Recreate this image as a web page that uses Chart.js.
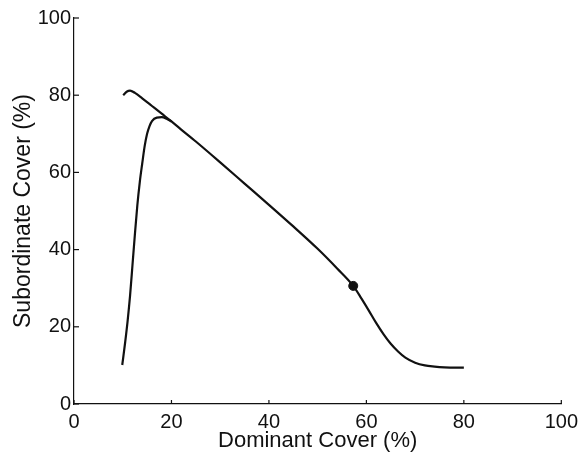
<!DOCTYPE html>
<html>
<head>
<meta charset="utf-8">
<script src="https://cdn.jsdelivr.net/npm/chart.js@4/dist/chart.umd.min.js"></script>
<style>
  html, body { margin: 0; padding: 0; background: #fff; }
</style>
</head>
<body>
<canvas id="coverChart" width="584" height="454"></canvas>
<script>
// upper curve: starts near 80%, falls along a line, then bends down to ~10%
const upperX = [10.1, 10.8, 11.5, 12.5, 14, 16, 18, 20, 22, 25, 30, 35, 40, 45, 50, 54, 57.3,
                59, 60.5, 62, 63.5, 65, 66.5, 68, 70, 72, 74, 76, 78, 80];
const upperY = [80, 80.9, 81.2, 80.6, 79.2, 77.2, 75.2, 73.2, 71.1, 68, 62.6, 57.1, 51.6, 46, 40.2, 35.1, 30.6,
                27.3, 24.2, 21, 18.1, 15.6, 13.6, 12, 10.7, 10, 9.7, 9.5, 9.4, 9.4];

// lower curve: rises steeply from ~10% and joins the upper one
const lowerX = [9.9, 10.5, 11, 11.5, 12, 12.5, 13, 13.5, 14, 14.5, 15, 15.5, 16, 17, 18, 19, 20];
const lowerY = [10.1, 16, 21.5, 28, 36, 44, 51.5, 57.5, 62.3, 66.8, 70, 72, 73.3, 74.2, 74.3, 73.9, 73.2];

// marked point on the upper curve
const markerX = [57.3];
const markerY = [30.6];

const axisTicks = [0, 20, 40, 60, 80, 100];

const toPoints = (xs, ys) => xs.map((x, i) => ({ x: x, y: ys[i] }));

const FONT = '"Liberation Sans", Arial, Helvetica, sans-serif';
const INK = '#111';

// ticks drawn inward, like the original figure
const inwardTicks = {
    id: 'inwardTicks',
    afterDraw(chart) {
        const { ctx, chartArea, scales } = chart;
        ctx.save();
        ctx.strokeStyle = INK;
        ctx.lineWidth = 1.2;
        axisTicks.forEach(v => {
            const px = scales.x.getPixelForValue(v);
            ctx.beginPath();
            ctx.moveTo(px, chartArea.bottom);
            ctx.lineTo(px, chartArea.bottom - 4);
            ctx.stroke();
            const py = scales.y.getPixelForValue(v);
            ctx.beginPath();
            ctx.moveTo(chartArea.left, py);
            ctx.lineTo(chartArea.left + 5, py);
            ctx.stroke();
        });
        ctx.restore();
    }
};

new Chart(document.getElementById('coverChart').getContext('2d'), {
    type: 'scatter',
    data: {
        datasets: [
            {
                data: toPoints(upperX, upperY),
                showLine: true,
                borderColor: INK,
                borderWidth: 2.2,
                pointRadius: 0,
                cubicInterpolationMode: 'monotone'
            },
            {
                data: toPoints(lowerX, lowerY),
                showLine: true,
                borderColor: INK,
                borderWidth: 2.2,
                pointRadius: 0,
                cubicInterpolationMode: 'monotone'
            },
            {
                data: toPoints(markerX, markerY),
                pointRadius: 4.5,
                pointBackgroundColor: INK,
                pointBorderColor: INK
            }
        ]
    },
    options: {
        responsive: false,
        animation: false,
        layout: { padding: { left: 0, top: 18, right: 18, bottom: 0 } },
        plugins: {
            legend: { display: false },
            tooltip: { enabled: false }
        },
        scales: {
            x: {
                type: 'linear',
                min: 0,
                max: 100,
                afterBuildTicks: s => { s.ticks = axisTicks.map(v => ({ value: v })); },
                afterFit: s => { s.height = 50; },
                grid: { display: false, drawTicks: false },
                border: { display: true, color: INK, width: 1.2 },
                ticks: { color: INK, padding: 6, font: { family: FONT, size: 20 } },
                title: {
                    display: true,
                    text: 'Dominant Cover (%)',
                    color: INK,
                    padding: { top: 0, bottom: 0 },
                    font: { family: FONT, size: 22 }
                }
            },
            y: {
                type: 'linear',
                min: 0,
                max: 100,
                afterBuildTicks: s => { s.ticks = axisTicks.map(v => ({ value: v })); },
                afterFit: s => { s.width = 74; },
                grid: { display: false, drawTicks: false },
                border: { display: true, color: INK, width: 1.2 },
                ticks: { color: INK, padding: 3, font: { family: FONT, size: 20 } },
                title: {
                    display: true,
                    text: 'Subordinate Cover (%)',
                    color: INK,
                    padding: { top: 10, bottom: 0 },
                    font: { family: FONT, size: 23 }
                }
            }
        }
    },
    plugins: [inwardTicks]
});
</script>
</body>
</html>
